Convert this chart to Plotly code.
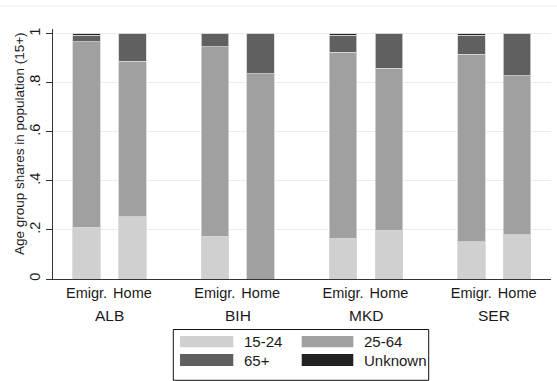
import plotly.graph_objects as go

# Age-group composition (shares of population aged 15+), emigrants vs. home population
countries = ["ALB", "BIH", "MKD", "SER"]
groups = ["Emigr.", "Home"]
age_groups = ["15-24", "25-64", "65+", "Unknown"]
colors = ["#d0d0d0", "#a0a0a0", "#606060", "#222222"]

share_15_24 = [0.212, 0.253, 0.175, 0.0, 0.167, 0.198, 0.153, 0.181]
share_25_64 = [0.757, 0.636, 0.772, 0.838, 0.758, 0.662, 0.763, 0.648]
share_65p = [0.026, 0.111, 0.053, 0.162, 0.070, 0.140, 0.079, 0.171]
share_unknown = [0.005, 0.0, 0.0, 0.0, 0.005, 0.0, 0.005, 0.0]
series = [share_15_24, share_25_64, share_65p, share_unknown]

inner_offset = 0.179
bar_width = 0.214
xpos = []
xtext = []
for gi, _ in enumerate(countries):
    for j, g in enumerate(groups):
        xpos.append(gi + (-inner_offset if j == 0 else inner_offset))
        xtext.append(g)

fig = go.Figure()
for name, vals, col in zip(age_groups, series, colors):
    fig.add_trace(go.Bar(
        x=xpos, y=vals, name=name, width=bar_width,
        marker=dict(color=col, line=dict(color="#d6d6d6", width=0.8)),
        showlegend=False,
    ))

FONT = "Liberation Sans, Arial, sans-serif"
PL, PR, PT, PB = 53, 6, 29, 102
W, H = 557, 381
pw, ph = W - PL - PR, H - PT - PB


def px_x(px):
    return (px - PL) / pw


def px_y(py):
    return (H - PB - py) / ph


fig.update_layout(
    width=W, height=H,
    margin=dict(l=PL, r=PR, t=PT, b=PB),
    paper_bgcolor="white", plot_bgcolor="white",
    barmode="stack",
    font=dict(family=FONT, color="#1a1a1a"),
    xaxis=dict(
        range=[-0.4405, 3.4425], tickvals=xpos, ticktext=xtext,
        showgrid=False, zeroline=False, showline=True, linecolor="#333333",
        linewidth=1, ticks="", tickfont=dict(size=14.5, color="#1a1a1a"),
        ticklabelstandoff=1,
    ),
    yaxis=dict(
        range=[0, 1.02], tickvals=[0, 0.2, 0.4, 0.6, 0.8, 1.0],
        ticktext=["0", ".2", ".4", ".6", ".8", "1"], tickangle=-90,
        showgrid=True, gridcolor="#e6eff0", gridwidth=1, zeroline=False,
        showline=True, linecolor="#333333", linewidth=1,
        ticks="outside", ticklen=6, tickcolor="#333333",
        tickfont=dict(size=14.5, color="#1a1a1a"),
    ),
)

# y-axis title
fig.add_annotation(x=px_x(19), y=px_y(144), xref="paper", yref="paper",
                   text="Age group shares in population (15+)", textangle=-90,
                   showarrow=False, xanchor="center", yanchor="middle",
                   font=dict(size=13.5, family=FONT, color="#1a1a1a"))

# country labels under each pair of bars
for gi, c in enumerate(countries):
    fig.add_annotation(x=gi, y=px_y(315.7), xref="x", yref="paper", text=c,
                       showarrow=False, yanchor="middle",
                       font=dict(size=15.5, family=FONT, color="#1a1a1a"))

# thin frame line near the top of the graph region
fig.add_shape(type="line", xref="paper", yref="paper",
              x0=px_x(0), x1=px_x(W), y0=px_y(6), y1=px_y(6),
              line=dict(color="#e6eff0", width=1))

# legend box with two columns of swatches
fig.add_shape(type="rect", xref="paper", yref="paper",
              x0=px_x(173.3), x1=px_x(428.7), y0=px_y(380.3), y1=px_y(329.5),
              line=dict(color="#111111", width=1), fillcolor="white")
sw_x = [(180, 233.3), (301.7, 353.3)]
sw_y = [(336, 347.3), (354, 366)]
txt_x = [241.7, 361.7]
for k, (name, col) in enumerate(zip(age_groups, colors)):
    r, cidx = divmod(k, 2)
    x0, x1 = sw_x[cidx]
    y0, y1 = sw_y[r]
    fig.add_shape(type="rect", xref="paper", yref="paper",
                  x0=px_x(x0), x1=px_x(x1), y0=px_y(y1), y1=px_y(y0),
                  line=dict(width=0), fillcolor=col)
    fig.add_annotation(x=px_x(txt_x[cidx]), y=px_y((y0 + y1) / 2),
                       xref="paper", yref="paper", text=name, showarrow=False,
                       xanchor="left", yanchor="middle",
                       font=dict(size=15, family=FONT, color="#1a1a1a"))

fig.write_html("out.html")
